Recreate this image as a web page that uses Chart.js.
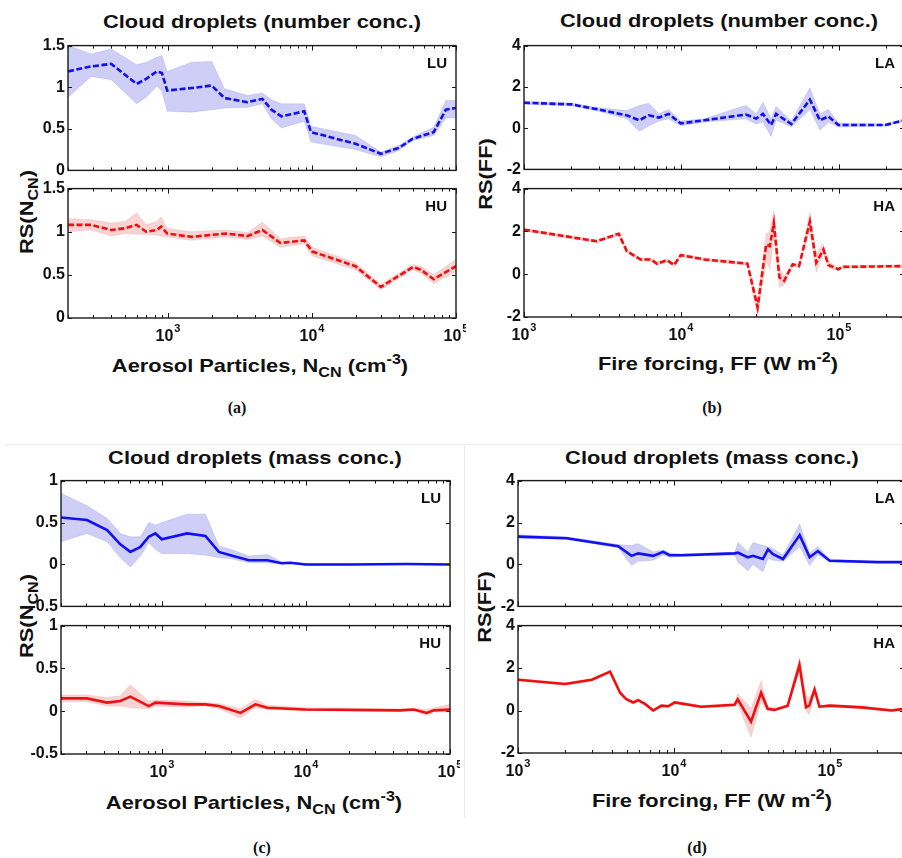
<!DOCTYPE html>
<html>
<head>
<meta charset="utf-8">
<script src="https://cdn.jsdelivr.net/npm/chart.js@4.4.1/dist/chart.umd.min.js"></script>
<style>
  body { margin: 0; width: 902px; height: 858px; overflow: hidden; background: #fff; position: relative;
         font-family: "Liberation Sans", Arial, sans-serif; color: #111; }
  canvas { position: absolute; }
  .t { position: absolute; transform: translate(-50%, -50%) scaleX(1.15); white-space: nowrap; font-weight: bold; font-size: 19px; line-height: 1; }
  .yl { transform: translate(-50%, -50%) rotate(-90deg) scaleX(1.15); }
  .cap { font-family: "Liberation Serif", "Times New Roman", serif; font-size: 16px; transform: translate(-50%, -50%); }
  sub, sup { font-size: 14px; position: relative; vertical-align: baseline; }
  sub { top: 5px; }
  sup { top: -8px; }
  .rule { position: absolute; background: #ececec; }
</style>
</head>
<body>
<div class="rule" style="left:5px;top:444px;width:897px;height:1px"></div>
<div class="rule" style="left:464px;top:444px;width:1px;height:374px"></div>

<div class="t" style="left:262px;top:21px">Cloud droplets (number conc.)</div>
<div class="t" style="left:719px;top:20px">Cloud droplets (number conc.)</div>
<div class="t" style="left:255px;top:457px">Cloud droplets (mass conc.)</div>
<div class="t" style="left:712px;top:457px">Cloud droplets (mass conc.)</div>

<div class="t" style="left:260px;top:365px">Aerosol Particles, N<sub>CN</sub> (cm<sup>-3</sup>)</div>
<div class="t" style="left:718px;top:363px">Fire forcing, FF (W m<sup>-2</sup>)</div>
<div class="t" style="left:254px;top:802px">Aerosol Particles, N<sub>CN</sub> (cm<sup>-3</sup>)</div>
<div class="t" style="left:712px;top:800px">Fire forcing, FF (W m<sup>-2</sup>)</div>

<div class="t yl" style="left:26px;top:212px">RS(N<sub>CN</sub>)</div>
<div class="t yl" style="left:485px;top:174px">RS(FF)</div>
<div class="t yl" style="left:26px;top:616px">RS(N<sub>CN</sub>)</div>
<div class="t yl" style="left:484px;top:607px">RS(FF)</div>

<div class="t cap" style="left:237px;top:408px">(a)</div>
<div class="t cap" style="left:712px;top:408px">(b)</div>
<div class="t cap" style="left:262px;top:848px">(c)</div>
<div class="t cap" style="left:697px;top:848px">(d)</div>

<script>
// (a) number conc. vs aerosol particles
const aLuX = [200, 290, 400, 600, 700, 830, 900, 980, 1450, 2000, 2450, 3550, 4500, 5200, 6100, 8800, 9800, 20000, 30000, 40000, 50000, 70000, 85000, 100000];
const aLuMean = [1.19, 1.25, 1.28, 1.04, 1.10, 1.19, 1.17, 0.96, 0.99, 1.02, 0.87, 0.82, 0.86, 0.73, 0.65, 0.71, 0.46, 0.32, 0.20, 0.27, 0.38, 0.46, 0.73, 0.75];
const aLuHi = [1.50, 1.40, 1.46, 1.27, 1.30, 1.36, 1.38, 1.19, 1.30, 1.31, 0.98, 0.90, 0.93, 0.85, 0.80, 0.80, 0.53, 0.42, 0.22, 0.30, 0.40, 0.52, 0.84, 0.84];
const aLuLo = [0.88, 1.13, 1.09, 0.80, 0.88, 1.01, 0.95, 0.71, 0.70, 0.73, 0.75, 0.76, 0.80, 0.62, 0.51, 0.59, 0.34, 0.25, 0.16, 0.24, 0.36, 0.42, 0.63, 0.63];

const aHuX = [200, 290, 400, 500, 600, 700, 830, 890, 980, 1450, 2500, 3550, 4500, 6000, 8800, 10000, 20000, 30000, 50000, 57000, 70000, 100000];
const aHuMean = [1.08, 1.08, 1.02, 1.04, 1.08, 1.00, 1.02, 1.06, 0.98, 0.94, 0.98, 0.95, 1.02, 0.87, 0.90, 0.77, 0.60, 0.36, 0.59, 0.56, 0.45, 0.60];
const aHuHi = [1.15, 1.14, 1.10, 1.12, 1.22, 1.08, 1.12, 1.17, 1.04, 1.00, 1.02, 0.99, 1.11, 0.92, 0.95, 0.82, 0.64, 0.39, 0.62, 0.60, 0.50, 0.68];
const aHuLo = [1.00, 1.02, 0.95, 0.98, 0.97, 0.97, 0.96, 0.95, 0.94, 0.90, 0.94, 0.91, 0.95, 0.82, 0.86, 0.72, 0.56, 0.33, 0.56, 0.52, 0.40, 0.54];

// (b) number conc. vs fire forcing
const bLaX = [1000, 2000, 2900, 4500, 5400, 6200, 7200, 8300, 9900, 14000, 25700, 29900, 33000, 37200, 40000, 50000, 65600, 76000, 86000, 99500, 198000, 260000];
const bLaMean = [1.23, 1.15, 0.92, 0.62, 0.38, 0.62, 0.51, 0.69, 0.23, 0.38, 0.66, 0.46, 0.69, 0.15, 0.69, 0.20, 1.38, 0.38, 0.57, 0.15, 0.15, 0.38];
const bLaHi = [1.30, 1.22, 1.00, 0.85, 1.10, 1.20, 0.70, 0.90, 0.35, 0.45, 1.10, 0.70, 1.25, 0.45, 1.05, 0.35, 1.95, 0.70, 0.90, 0.25, 0.20, 0.43];
const bLaLo = [1.16, 1.08, 0.84, 0.45, -0.15, 0.10, 0.35, 0.45, 0.12, 0.30, 0.45, 0.20, 0.30, -0.40, 0.40, 0.05, 0.90, -0.10, 0.30, 0.05, 0.10, 0.33];

const bHaX = [1000, 2900, 4000, 4500, 5500, 6400, 7000, 8100, 9000, 9900, 14000, 26300, 30500, 34600, 36500, 38700, 42000, 45000, 51000, 56000, 65600, 72000, 80000, 86000, 99500, 105000, 260000];
const bHaMean = [2.08, 1.54, 1.89, 1.08, 0.69, 0.69, 0.49, 0.65, 0.43, 0.89, 0.69, 0.49, -1.54, 1.38, 1.31, 2.38, -0.15, -0.31, 0.46, 0.38, 2.46, 0.54, 1.15, 0.43, 0.23, 0.34, 0.38];
const bHaHi = [2.15, 1.60, 1.95, 1.15, 0.76, 0.76, 0.58, 0.72, 0.52, 0.97, 0.76, 0.56, -1.20, 1.90, 2.00, 3.00, 0.30, -0.10, 0.53, 0.45, 2.90, 1.00, 1.40, 0.60, 0.30, 0.40, 0.44];
const bHaLo = [2.01, 1.48, 1.82, 1.01, 0.62, 0.62, 0.42, 0.58, 0.36, 0.81, 0.62, 0.42, -1.95, 0.60, 0.25, 1.80, -0.60, -0.50, 0.39, 0.31, 2.10, 0.10, 1.00, 0.30, 0.16, 0.28, 0.32];

// (c) mass conc. vs aerosol particles
const cLuX = [200, 303, 418, 516, 606, 711, 812, 904, 1000, 1500, 2010, 2490, 3000, 4020, 5400, 6800, 7800, 10000, 20000, 50000, 100000];
const cLuMean = [0.56, 0.53, 0.41, 0.24, 0.15, 0.21, 0.33, 0.37, 0.30, 0.37, 0.34, 0.15, 0.11, 0.05, 0.05, 0.015, 0.02, 0.0, 0.0, 0.005, 0.0];
const cLuHi = [0.85, 0.70, 0.55, 0.37, 0.33, 0.33, 0.50, 0.47, 0.50, 0.60, 0.60, 0.22, 0.18, 0.10, 0.12, 0.03, 0.03, 0.008, 0.008, 0.012, 0.008];
const cLuLo = [0.27, 0.37, 0.27, 0.08, -0.03, 0.10, 0.26, 0.18, 0.13, 0.13, 0.11, 0.08, 0.07, 0.02, 0.02, 0.005, 0.01, -0.008, -0.008, -0.002, -0.008];

const cHuX = [200, 303, 418, 516, 606, 812, 904, 1500, 2010, 2490, 3520, 4470, 5400, 10000, 45000, 56000, 69000, 77000, 100000];
const cHuMean = [0.15, 0.15, 0.10, 0.12, 0.17, 0.06, 0.10, 0.08, 0.08, 0.06, -0.02, 0.08, 0.04, 0.02, 0.01, 0.02, -0.02, 0.01, 0.02];
const cHuHi = [0.19, 0.19, 0.16, 0.18, 0.31, 0.12, 0.13, 0.12, 0.10, 0.09, 0.03, 0.14, 0.07, 0.04, 0.025, 0.035, 0.02, 0.04, 0.08];
const cHuLo = [0.11, 0.11, 0.06, 0.06, 0.04, 0.03, 0.06, 0.05, 0.06, 0.03, -0.08, 0.04, 0.02, 0.005, 0.0, 0.005, -0.05, -0.01, -0.01];

// (d) mass conc. vs fire forcing
const dLaX = [1000, 2050, 4400, 5350, 5900, 7370, 8540, 9400, 11200, 24600, 25800, 29900, 32200, 37300, 40200, 43300, 50200, 64200, 74400, 84000, 100000, 204000, 300000];
const dLaMean = [1.33, 1.25, 0.87, 0.41, 0.53, 0.41, 0.60, 0.44, 0.44, 0.53, 0.56, 0.34, 0.41, 0.26, 0.72, 0.49, 0.26, 1.40, 0.34, 0.64, 0.18, 0.11, 0.11];
const dLaHi = [1.42, 1.32, 0.95, 0.90, 1.00, 0.60, 0.70, 0.55, 0.50, 0.58, 1.05, 0.60, 1.05, 0.90, 0.85, 0.75, 0.45, 1.93, 0.55, 0.85, 0.25, 0.14, 0.14];
const dLaLo = [1.25, 1.20, 0.80, -0.05, 0.15, 0.20, 0.45, 0.35, 0.38, 0.45, 0.10, -0.30, 0.00, -0.35, 0.30, 0.20, 0.15, 0.85, -0.05, 0.45, 0.13, 0.08, 0.08];

const dHaX = [1000, 2000, 2980, 3900, 4520, 4960, 5500, 5900, 6530, 7370, 8330, 9200, 10150, 15000, 24500, 25700, 31300, 36300, 40000, 44200, 53800, 64000, 70500, 74000, 80000, 86000, 100000, 160000, 250000, 300000];
const dHaMean = [1.45, 1.25, 1.45, 1.83, 0.84, 0.53, 0.38, 0.49, 0.31, 0.0, 0.23, 0.20, 0.38, 0.18, 0.27, 0.53, -0.53, 0.84, 0.08, 0.03, 0.23, 2.14, 0.15, 0.23, 0.99, 0.18, 0.23, 0.15, 0.0, 0.08];
const dHaHi = [1.51, 1.31, 1.51, 1.89, 0.90, 0.59, 0.44, 0.55, 0.37, 0.06, 0.29, 0.26, 0.44, 0.24, 0.33, 0.80, 0.10, 1.40, 0.20, 0.09, 0.29, 2.50, 0.70, 0.60, 1.10, 0.24, 0.29, 0.21, 0.06, 0.14];
const dHaLo = [1.39, 1.19, 1.39, 1.77, 0.78, 0.47, 0.32, 0.43, 0.25, -0.06, 0.17, 0.14, 0.32, 0.12, 0.21, 0.30, -1.25, 0.40, 0.00, -0.03, 0.17, 1.80, 0.00, -0.20, 0.85, 0.12, 0.17, 0.09, -0.06, 0.02];

const FONT = '"Liberation Sans", Arial, sans-serif';
const BLUE = "#1010f0", RED = "#ee1010";
const BLUE_BAND = "rgba(120,120,230,0.36)", RED_BAND = "rgba(235,120,120,0.33)";

//draws the matlab-like box, inward ticks, tag and 10^n labels
const framePlugin = {
  id: "frame",
  afterDraw(chart, args, opts) {
    const ctx = chart.ctx;
    const a = chart.chartArea;
    const xs = chart.scales.x, ys = chart.scales.y;
    ctx.save();
    ctx.strokeStyle = "#1a1a1a";
    ctx.lineWidth = 1.4;
    ctx.strokeRect(a.left, a.top, a.right - a.left, a.bottom - a.top);
    ctx.lineWidth = 1;
    ctx.beginPath();
    ys.ticks.forEach((t) => {
      const py = Math.round(ys.getPixelForValue(t.value)) + 0.5;
      ctx.moveTo(a.left, py); ctx.lineTo(a.left + 4, py);
      ctx.moveTo(a.right, py); ctx.lineTo(a.right - 4, py);
    });
    const d0 = Math.floor(Math.log10(xs.min)), d1 = Math.ceil(Math.log10(xs.max));
    const majors = [];
    for (let d = d0; d <= d1; d++) {
      for (let k = 1; k <= 9; k++) {
        const v = k * Math.pow(10, d);
        if (v < xs.min * 0.999 || v > xs.max * 1.001) continue;
        const px = Math.round(xs.getPixelForValue(v)) + 0.5;
        const len = k === 1 ? 5 : 3;
        if (k === 1) majors.push([d, px]);
        ctx.moveTo(px, a.bottom); ctx.lineTo(px, a.bottom - len);
        ctx.moveTo(px, a.top); ctx.lineTo(px, a.top + len);
      }
    }
    ctx.stroke();

    ctx.fillStyle = "#111";
    ctx.font = "bold 15px " + FONT;
    ctx.textAlign = "right";
    ctx.textBaseline = "middle";
    ctx.fillText(opts.tag, a.right - 9, a.top + 18);

    if (opts.showX) {
      majors.forEach(([d, px]) => {
        ctx.font = "bold 16px " + FONT;
        const w10 = ctx.measureText("10").width;
        ctx.font = "bold 11px " + FONT;
        const we = ctx.measureText(String(d)).width;
        const x0 = px - (w10 + we) / 2 - 1;
        ctx.textAlign = "left";
        ctx.font = "bold 16px " + FONT;
        ctx.fillText("10", x0, a.bottom + 19);
        ctx.font = "bold 11px " + FONT;
        ctx.fillText(String(d), x0 + w10 + 1, a.bottom + 11);
      });
    }
    ctx.restore();
  },
};

function pts(xs, ys) {
  return xs.map((x, i) => ({ x: x, y: ys[i] }));
}

function makePanel(p) {
  const cv = document.createElement("canvas");
  const below = p.showX ? 30 : 10;
  cv.width = p.w + 60;
  cv.height = p.h + 10 + below;
  cv.style.left = p.left - 50 + "px";
  cv.style.top = p.top - 10 + "px";
  document.body.appendChild(cv);

  new Chart(cv, {
    type: "line",
    data: {
      datasets: [
        {
          data: pts(p.x, p.mean),
          borderColor: p.color,
          borderWidth: 2.6,
          borderDash: p.dashed ? [6, 2.5] : [],
          pointRadius: 0,
          fill: false,
          tension: 0,
        },
        {
          data: pts(p.x, p.lo),
          borderColor: p.band,
          borderWidth: 0.6,
          pointRadius: 0,
          fill: false,
          tension: 0,
        },
        {
          data: pts(p.x, p.hi),
          borderColor: p.band,
          borderWidth: 0.6,
          backgroundColor: p.band,
          pointRadius: 0,
          fill: 1,
          tension: 0,
        },
      ],
    },
    options: {
      responsive: false,
      animation: false,
      layout: { padding: { left: 0, top: 10, right: 10, bottom: p.showX ? 0 : 10 } },
      scales: {
        x: {
          type: "logarithmic",
          min: p.xMin,
          max: p.xMax,
          grid: { display: false, drawTicks: false },
          border: { display: false },
          ticks: { display: false },
          afterFit: (s) => { s.height = p.showX ? 30 : 0; },
        },
        y: {
          min: p.yMin,
          max: p.yMax,
          grid: { display: false, drawTicks: false },
          border: { display: false },
          ticks: {
            stepSize: p.yStep,
            padding: 3,
            color: "#111",
            font: { family: FONT, size: 16, weight: "bold" },
            callback: (v) => String(v),
          },
          afterFit: (s) => { s.width = 50; },
        },
      },
      plugins: {
        legend: { display: false },
        tooltip: { enabled: false },
        frame: { tag: p.tag, showX: p.showX },
      },
    },
    plugins: [framePlugin],
  });
}

window.addEventListener("DOMContentLoaded", function () {
  // (a)
  makePanel({ left: 68, top: 43, w: 388, h: 130, xMin: 200, xMax: 1e5, yMin: 0, yMax: 1.5, yStep: 0.5,
    x: aLuX, mean: aLuMean, hi: aLuHi, lo: aLuLo, color: BLUE, band: BLUE_BAND, dashed: true, tag: "LU", showX: false });
  makePanel({ left: 68, top: 186, w: 388, h: 132, xMin: 200, xMax: 1e5, yMin: 0, yMax: 1.5, yStep: 0.5,
    x: aHuX, mean: aHuMean, hi: aHuHi, lo: aHuLo, color: RED, band: RED_BAND, dashed: true, tag: "HU", showX: true });
  // (b)
  makePanel({ left: 524, top: 43, w: 380, h: 129, xMin: 1e3, xMax: 2.6e5, yMin: -2, yMax: 4, yStep: 2,
    x: bLaX, mean: bLaMean, hi: bLaHi, lo: bLaLo, color: BLUE, band: BLUE_BAND, dashed: true, tag: "LA", showX: false });
  makePanel({ left: 524, top: 186, w: 380, h: 131, xMin: 1e3, xMax: 2.6e5, yMin: -2, yMax: 4, yStep: 2,
    x: bHaX, mean: bHaMean, hi: bHaHi, lo: bHaLo, color: RED, band: RED_BAND, dashed: true, tag: "HA", showX: true });
  // (c)
  makePanel({ left: 61, top: 478, w: 389, h: 131, xMin: 200, xMax: 1e5, yMin: -0.5, yMax: 1, yStep: 0.5,
    x: cLuX, mean: cLuMean, hi: cLuHi, lo: cLuLo, color: BLUE, band: BLUE_BAND, dashed: false, tag: "LU", showX: false });
  makePanel({ left: 61, top: 623, w: 389, h: 131, xMin: 200, xMax: 1e5, yMin: -0.5, yMax: 1, yStep: 0.5,
    x: cHuX, mean: cHuMean, hi: cHuHi, lo: cHuLo, color: RED, band: RED_BAND, dashed: false, tag: "HU", showX: true });
  // (d)
  makePanel({ left: 518, top: 478, w: 386, h: 131, xMin: 1e3, xMax: 3e5, yMin: -2, yMax: 4, yStep: 2,
    x: dLaX, mean: dLaMean, hi: dLaHi, lo: dLaLo, color: BLUE, band: BLUE_BAND, dashed: false, tag: "LA", showX: false });
  makePanel({ left: 518, top: 623, w: 386, h: 130, xMin: 1e3, xMax: 3e5, yMin: -2, yMax: 4, yStep: 2,
    x: dHaX, mean: dHaMean, hi: dHaHi, lo: dHaLo, color: RED, band: RED_BAND, dashed: false, tag: "HA", showX: true });
});
</script>
</body>
</html>
